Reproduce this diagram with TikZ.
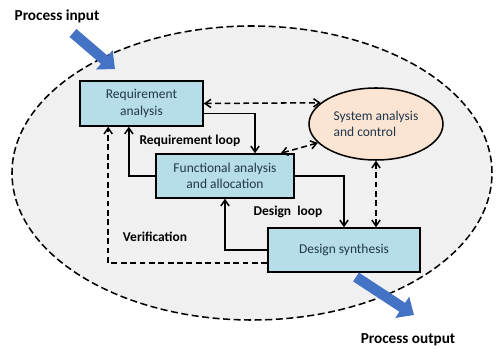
\documentclass[tikz,border=0pt]{standalone}
\usepackage{fontspec}
\setmainfont{Carlito}
\usetikzlibrary{shapes.geometric, arrows.meta, positioning}
\definecolor{boxblue}{RGB}{183,221,232}
\definecolor{boxtext}{RGB}{30,55,75}
\definecolor{peach}{RGB}{252,228,210}
\definecolor{flowblue}{RGB}{68,114,196}

\begin{document}
\begin{tikzpicture}[
    x=0.03cm, y=-0.03cm,
    node distance=0.8cm,
    block/.style={rectangle, draw, line width=1.3pt, fill=boxblue, text=boxtext, align=center, inner sep=0pt, font=\fontsize{11.5}{14}\selectfont},
    control/.style={ellipse, draw, line width=1.3pt, fill=peach, text=boxtext, align=left, inner sep=0pt, minimum width=4.02cm, minimum height=2.16cm, font=\fontsize{11.5}{14}\selectfont},
    tag/.style={font=\bfseries\fontsize{11.5}{14}\selectfont},
    io/.style={font=\bfseries\fontsize{13}{15}\selectfont},
    link/.style={line width=1.3pt, -{Straight Barb[length=5pt, width=7pt]}},
    dashline/.style={dash pattern=on 5pt off 3pt},
    both/.style={line width=1.3pt, dash pattern=on 5pt off 3pt, {Straight Barb[length=5pt, width=7pt]}-{Straight Barb[length=5pt, width=7pt]}}
]
\useasboundingbox (0,0) rectangle (496,349);

% System boundary
\node[ellipse, draw, line width=1.3pt, dash pattern=on 6pt off 3pt, fill=gray!12, minimum width=14.4cm, minimum height=8.82cm] (sys) at (252,173) {};

% Blocks
\node[block, minimum width=3.69cm, minimum height=1.35cm] (req) at (141.5,103.5) {Requirement\\analysis};
\node[block, minimum width=4.14cm, minimum height=1.32cm] (fun) at (225,176) {Functional analysis\\and allocation};
\node[block, minimum width=4.56cm, minimum height=1.32cm] (syn) at (344,250) {Design synthesis};
\node[control] (sac) at (376,124) {System analysis\\and control};

% Labels
\node[tag] (reqloop) at (190,141) {Requirement loop};
\node[tag] (desloop) at (288,212) {Design~ loop};
\node[tag] (verif) at (155,237) {Verification};
\node[io] (pin) at (57,16) {Process input};
\node[io] (pout) at (408,340) {Process output};

% Process input / output
\coordinate (in0) at (73,33);
\coordinate (in1) at (115,69);
\coordinate (out0) at (356,277);
\coordinate (out1) at (414,315);
\draw[flowblue, line width=9pt, -{Triangle[length=12pt, width=21pt]}] (in0) -- (in1);
\draw[flowblue, line width=9pt, -{Triangle[length=12pt, width=21pt]}] (out0) -- (out1);

% Loops
\draw[link] ([yshift=-0.3cm]req.east) -| ([xshift=0.9cm]fun.north);
\draw[link] (fun.west) -| ([xshift=-0.38cm]req.south);
\draw[link] (fun.east) -| (syn.north);
\draw[link] (syn.west) -| (fun.south);
\draw[link, dashline] ([yshift=-0.39cm]syn.west) -| ([xshift=-1cm]req.south);

% Control links
\draw[both] (req.east) -- (sac.159);
\draw[both] (sac.198) -- ([xshift=-0.42cm]fun.north east);
\draw[both] (sac.south) -- (sac.south |- syn.north);

\end{tikzpicture}
\end{document}
